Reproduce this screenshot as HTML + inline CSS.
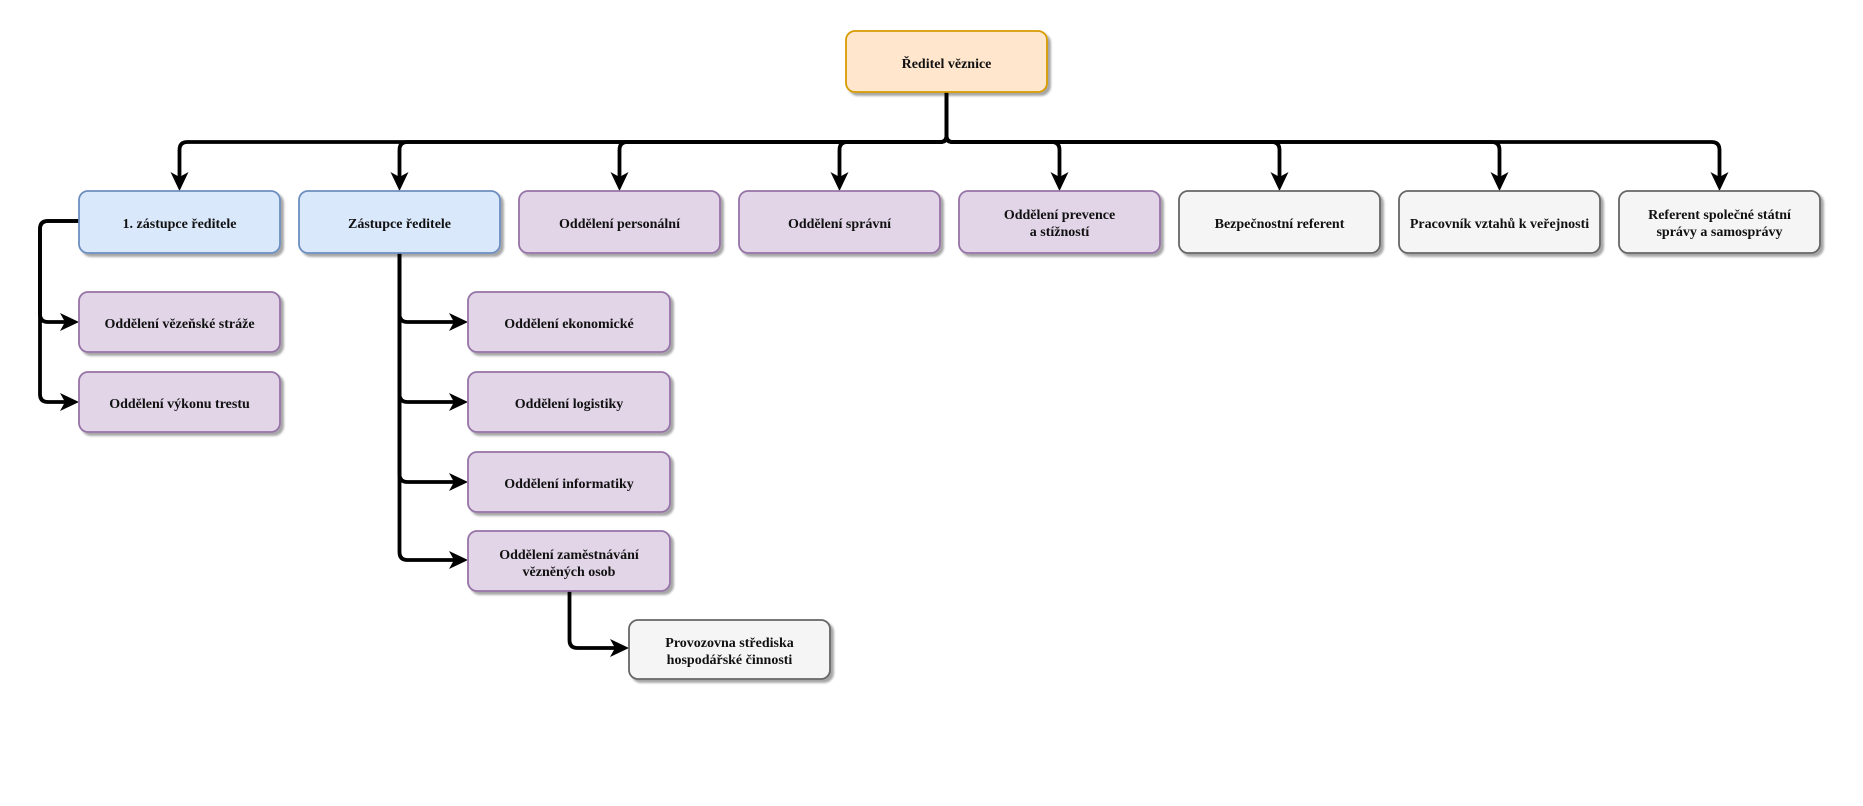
<!DOCTYPE html>
<html>
<head>
<meta charset="utf-8">
<style>
  html,body{margin:0;padding:0;background:#fff;}
  svg{display:block;}
  text{font-family:"Liberation Serif","Noto Serif CJK SC",serif;font-weight:bold;font-size:14px;fill:#111;}
</style>
</head>
<body>
<svg width="1863" height="806" viewBox="0 0 1863 806" xmlns="http://www.w3.org/2000/svg">
  <defs>
    <filter id="sh" x="-10%" y="-10%" width="130%" height="140%">
      <feDropShadow dx="3" dy="3" stdDeviation="1" flood-color="#000" flood-opacity="0.35"/>
    </filter>
  </defs>

  <!-- connectors -->
  <g fill="none" stroke="#000" stroke-width="3.8" stroke-linejoin="round">
    <path d="M946.5,92 V136 Q946.5,142 940.5,142 H187.5 Q179.5,142 179.5,150 V177"/>
    <path d="M946.5,92 V136 Q946.5,142 940.5,142 H407.5 Q399.5,142 399.5,150 V177"/>
    <path d="M946.5,92 V136 Q946.5,142 940.5,142 H627.5 Q619.5,142 619.5,150 V177"/>
    <path d="M946.5,92 V136 Q946.5,142 940.5,142 H847.5 Q839.5,142 839.5,150 V177"/>
    <path d="M946.5,92 V136 Q946.5,142 952.5,142 H1051.5 Q1059.5,142 1059.5,150 V177"/>
    <path d="M946.5,92 V136 Q946.5,142 952.5,142 H1271.5 Q1279.5,142 1279.5,150 V177"/>
    <path d="M946.5,92 V136 Q946.5,142 952.5,142 H1491.5 Q1499.5,142 1499.5,150 V177"/>
    <path d="M946.5,92 V136 Q946.5,142 952.5,142 H1711.5 Q1719.5,142 1719.5,150 V177"/>

    <path d="M79,221 H48 Q40,221 40,229 V314 Q40,322 48,322 H66"/>
    <path d="M79,221 H48 Q40,221 40,229 V394 Q40,402 48,402 H66"/>

    <path d="M399.5,253 V314 Q399.5,322 407.5,322 H455"/>
    <path d="M399.5,253 V394 Q399.5,402 407.5,402 H455"/>
    <path d="M399.5,253 V474 Q399.5,482 407.5,482 H455"/>
    <path d="M399.5,253 V552 Q399.5,560 407.5,560 H455"/>

    <path d="M569.5,591 V640 Q569.5,648 577.5,648 H616"/>
  </g>

  <!-- arrowheads -->
  <g fill="#000">
    <polygon points="179.5,191 170.5,172 179.5,177 188.5,172"/>
    <polygon points="399.5,191 390.5,172 399.5,177 408.5,172"/>
    <polygon points="619.5,191 610.5,172 619.5,177 628.5,172"/>
    <polygon points="839.5,191 830.5,172 839.5,177 848.5,172"/>
    <polygon points="1059.5,191 1050.5,172 1059.5,177 1068.5,172"/>
    <polygon points="1279.5,191 1270.5,172 1279.5,177 1288.5,172"/>
    <polygon points="1499.5,191 1490.5,172 1499.5,177 1508.5,172"/>
    <polygon points="1719.5,191 1710.5,172 1719.5,177 1728.5,172"/>

    <polygon points="79,322 60,313 65,322 60,331"/>
    <polygon points="79,402 60,393 65,402 60,411"/>

    <polygon points="468,322 449,313 454,322 449,331"/>
    <polygon points="468,402 449,393 454,402 449,411"/>
    <polygon points="468,482 449,473 454,482 449,491"/>
    <polygon points="468,560 449,551 454,560 449,569"/>

    <polygon points="629,648 610,639 615,648 610,657"/>
  </g>

  <!-- nodes -->
  <g stroke-width="1.8" filter="url(#sh)">
    <rect x="846" y="31" width="201" height="61" rx="9" fill="#ffe6cc" stroke="#d79b00"/>

    <rect x="79" y="191" width="201" height="62" rx="9" fill="#dae8fc" stroke="#6c8ebf"/>
    <rect x="299" y="191" width="201" height="62" rx="9" fill="#dae8fc" stroke="#6c8ebf"/>
    <rect x="519" y="191" width="201" height="62" rx="9" fill="#e1d5e7" stroke="#9673a6"/>
    <rect x="739" y="191" width="201" height="62" rx="9" fill="#e1d5e7" stroke="#9673a6"/>
    <rect x="959" y="191" width="201" height="62" rx="9" fill="#e1d5e7" stroke="#9673a6"/>
    <rect x="1179" y="191" width="201" height="62" rx="9" fill="#f5f5f5" stroke="#666666"/>
    <rect x="1399" y="191" width="201" height="62" rx="9" fill="#f5f5f5" stroke="#666666"/>
    <rect x="1619" y="191" width="201" height="62" rx="9" fill="#f5f5f5" stroke="#666666"/>

    <rect x="79" y="292" width="201" height="60" rx="9" fill="#e1d5e7" stroke="#9673a6"/>
    <rect x="79" y="372" width="201" height="60" rx="9" fill="#e1d5e7" stroke="#9673a6"/>

    <rect x="468" y="292" width="202" height="60" rx="9" fill="#e1d5e7" stroke="#9673a6"/>
    <rect x="468" y="372" width="202" height="60" rx="9" fill="#e1d5e7" stroke="#9673a6"/>
    <rect x="468" y="452" width="202" height="60" rx="9" fill="#e1d5e7" stroke="#9673a6"/>
    <rect x="468" y="531" width="202" height="60" rx="9" fill="#e1d5e7" stroke="#9673a6"/>

    <rect x="629" y="620" width="201" height="59" rx="9" fill="#f5f5f5" stroke="#666666"/>
  </g>

  <!-- labels -->
  <g text-anchor="middle" dominant-baseline="central" transform="translate(0,2.5)">
    <text x="946.5" y="62">Ředitel věznice</text>

    <text x="179.5" y="222">1. zástupce ředitele</text>
    <text x="399.5" y="222">Zástupce ředitele</text>
    <text x="619.5" y="222">Oddělení personální</text>
    <text x="839.5" y="222">Oddělení správní</text>
    <text x="1059.5" y="213">Oddělení prevence</text>
    <text x="1059.5" y="230">a stížností</text>
    <text x="1279.5" y="222">Bezpečnostní referent</text>
    <text x="1499.5" y="222">Pracovník vztahů k veřejnosti</text>
    <text x="1719.5" y="213">Referent společné státní</text>
    <text x="1719.5" y="230">správy a samosprávy</text>

    <text x="179.5" y="322">Oddělení vězeňské stráže</text>
    <text x="179.5" y="402">Oddělení výkonu trestu</text>

    <text x="569" y="322">Oddělení ekonomické</text>
    <text x="569" y="402">Oddělení logistiky</text>
    <text x="569" y="482">Oddělení informatiky</text>
    <text x="569" y="553">Oddělení zaměstnávání</text>
    <text x="569" y="570">vězněných osob</text>

    <text x="729.5" y="641">Provozovna střediska</text>
    <text x="729.5" y="658">hospodářské činnosti</text>
  </g>
</svg>
</body>
</html>
